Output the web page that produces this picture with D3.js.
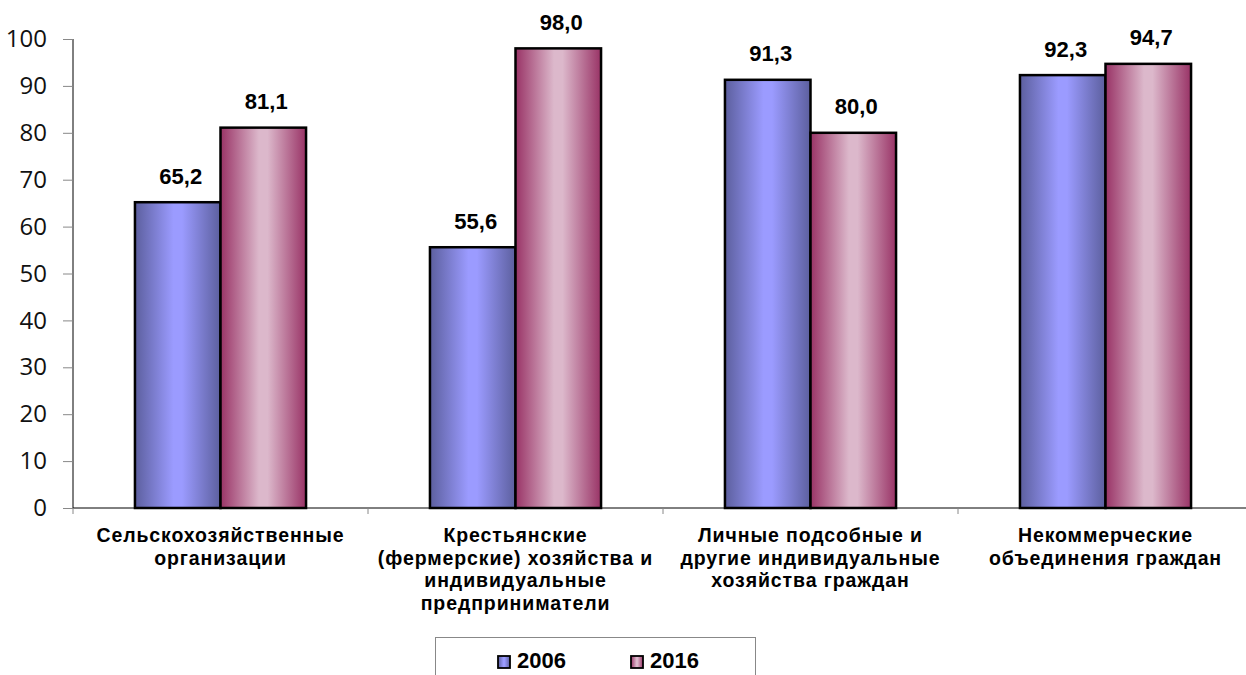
<!DOCTYPE html>
<html><head><meta charset="utf-8">
<script src="https://cdn.jsdelivr.net/npm/d3@7"></script>
<style>body{margin:0;background:#fff}svg{display:block}</style>
</head><body>
<svg id="c" width="1246" height="675"></svg>
<script>
const categories = [
  ["Сельскохозяйственные", "организации"],
  ["Крестьянские", "(фермерские) хозяйства и", "индивидуальные", "предприниматели"],
  ["Личные подсобные и", "другие индивидуальные", "хозяйства граждан"],
  ["Некоммерческие", "объединения граждан"]
];
const seriesNames = ["2006", "2016"];
const values2006 = [65.2, 55.6, 91.3, 92.3];
const values2016 = [81.1, 98.0, 80.0, 94.7];
const yTicks = [0, 10, 20, 30, 40, 50, 60, 70, 80, 90, 100];

const svg = d3.select("#c");
const defs = svg.append("defs");
function grad(id, edge, mid) {
  const g = defs.append("linearGradient").attr("id", id).attr("x1", 0).attr("x2", 1).attr("y1", 0).attr("y2", 0);
  [[0, edge], [0.45, mid], [0.55, mid], [1, edge]].forEach(([o, c]) => g.append("stop").attr("offset", o).attr("stop-color", c));
}
grad("gBlue", "#5c5f9e", "#9b9bff");
grad("gPink", "#993366", "#dcb8cb");
const fills = ["url(#gBlue)", "url(#gPink)"];
const ARIAL = "Arial, 'Liberation Sans', sans-serif";

const pL = 73, pR = 1253, pT = 39, pB = 508;
const x0 = d3.scaleBand().domain(d3.range(categories.length)).range([pL, pR]).paddingInner(0.42).paddingOuter(0.21);
const x1 = d3.scaleBand().domain([0, 1]).range([0, x0.bandwidth()]);
const y = d3.scaleLinear().domain([0, 100]).range([pB, pT]);

// y axis
const yAxis = d3.axisLeft(y).tickValues(yTicks).tickSize(10).tickPadding(16);
const ya = svg.append("g").attr("transform", `translate(${pL},0)`).call(yAxis);
ya.select(".domain").attr("stroke", "#000").attr("d", `M0,${pT}V${pB}`);
ya.selectAll(".tick line").attr("stroke", "#888");
ya.selectAll(".tick text").attr("font-family", "'Open Sans', sans-serif").attr("font-size", 24).attr("fill", "#111");

// x axis line
svg.append("line").attr("x1", pL).attr("x2", 1246).attr("y1", pB).attr("y2", pB).attr("stroke", "#000");
d3.range(categories.length + 1).forEach(i => {
  const xx = pL + i * (pR - pL) / categories.length;
  svg.append("line").attr("x1", xx).attr("x2", xx).attr("y1", pB).attr("y2", pB + 6).attr("stroke", "#888");
});

const data = categories.map((c, i) => [values2006[i], values2016[i]]);
const groups = svg.append("g").selectAll("g").data(data).join("g")
  .attr("transform", (d, i) => `translate(${x0(i)},0)`);
groups.selectAll("rect").data(d => d).join("rect")
  .attr("x", (d, j) => x1(j)).attr("width", x1.bandwidth())
  .attr("y", d => y(d)).attr("height", d => pB - y(d))
  .attr("fill", (d, j) => fills[j]).attr("stroke", "#000").attr("stroke-width", 2.5);
groups.selectAll("text").data(d => d).join("text")
  .attr("x", (d, j) => x1(j) + x1.bandwidth() / 2 + 3).attr("y", d => y(d) - 18.5)
  .attr("text-anchor", "middle").attr("font-family", ARIAL)
  .attr("font-weight", "bold").attr("font-size", 22)
  .text(d => d.toFixed(1).replace(".", ","));

// category labels
categories.forEach((lines, i) => {
  const cx = x0(i) + x0.bandwidth() / 2;
  const t = svg.append("text").attr("text-anchor", "middle")
    .attr("font-family", ARIAL).attr("font-weight", "bold").attr("font-size", 19.5)
    .attr("letter-spacing", 0.9);
  lines.forEach((l, k) => t.append("tspan").attr("x", cx).attr("y", 542 + k * 22.7).text(l));
});

// legend
svg.append("rect").attr("x", 435.5).attr("y", 637.5).attr("width", 320).attr("height", 60)
  .attr("fill", "#fff").attr("stroke", "#888");
const legX = [498, 631];
seriesNames.forEach((n, j) => {
  svg.append("rect").attr("x", legX[j]).attr("y", 656).attr("width", 12).attr("height", 12)
    .attr("fill", fills[j]).attr("stroke", "#000").attr("stroke-width", 1.8);
  svg.append("text").attr("x", legX[j] + 19).attr("y", 668)
    .attr("font-family", ARIAL).attr("font-weight", "bold").attr("font-size", 22).text(n);
});
</script>
</body></html>
